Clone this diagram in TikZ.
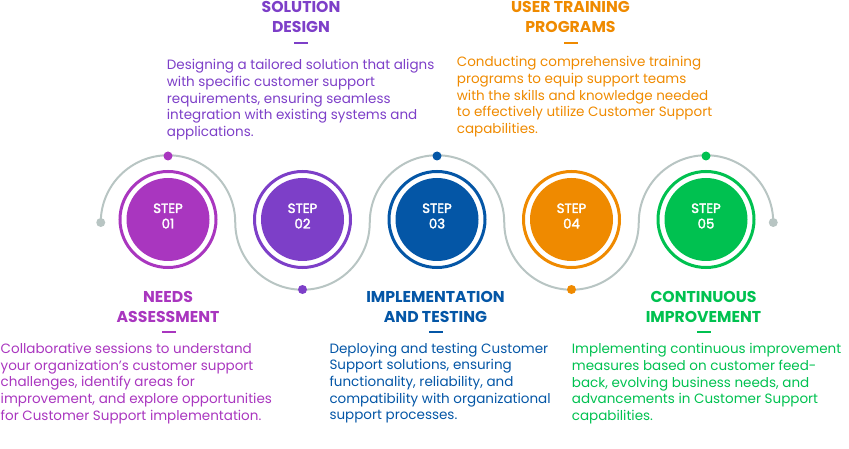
\documentclass[tikz,border=0pt]{standalone}
\usepackage{fontspec}
\setmainfont{Poppins}
\newfontfamily\stepfont{Poppins}[FakeBold=2.5]
\usetikzlibrary{positioning}
\definecolor{needs}{HTML}{A936BF}
\definecolor{design}{HTML}{7D3FC8}
\definecolor{testing}{HTML}{0456A6}
\definecolor{training}{HTML}{EF8A00}
\definecolor{improve}{HTML}{00C150}
\definecolor{track}{HTML}{B8C5C3}

\begin{document}
\begin{tikzpicture}[x=1pt, y=-1pt,
  disc/.style={circle, minimum size=83pt, inner sep=0pt},
  steptext/.style={text=white, align=center, inner sep=0pt, font=\stepfont\fontsize{13.3}{15.5}\selectfont},
  ring/.style={circle, minimum size=96pt, inner sep=0pt, line width=3pt},
  dot/.style={circle, minimum size=9pt, inner sep=0pt},
  title/.style={anchor=base, align=center, inner sep=0pt, font=\fontsize{15.7}{19.5}\selectfont\bfseries},
  titlebar/.style={minimum width=14pt, minimum height=2pt, inner sep=0pt},
  desc/.style={anchor=base west, align=left, inner sep=0pt, font=\fontsize{13.5}{16.7}\selectfont}
]
\useasboundingbox (0,0) rectangle (849,449);

\coordinate (start) at (100.75,222.5);
\draw[track, line width=2pt] (start) arc (180:360:67.25) arc (180:0:67.25)
  arc (180:360:67.25) arc (180:0:67.25) arc (180:360:67.25) coordinate (end);
\node[dot, fill=track] at (start) {};
\node[dot, fill=track] at (end) {};

\node[disc, fill=needs] (s1) at (168,219.5) {};
\node[disc, fill=design] (s2) at (302.5,219.5) {};
\node[disc, fill=testing] (s3) at (437,219.5) {};
\node[disc, fill=training] (s4) at (571.5,219.5) {};
\node[disc, fill=improve] (s5) at (706,219.5) {};

\node[steptext] at ([yshift=3.5pt]s1) {STEP\\01};
\node[steptext] at ([yshift=3.5pt]s2) {STEP\\02};
\node[steptext] at ([yshift=3.5pt]s3) {STEP\\03};
\node[steptext] at ([yshift=3.5pt]s4) {STEP\\04};
\node[steptext] at ([yshift=3.5pt]s5) {STEP\\05};

\node[ring, draw=needs] at (s1) {};
\node[ring, draw=design] at (s2) {};
\node[ring, draw=testing] at (s3) {};
\node[ring, draw=training] at (s4) {};
\node[ring, draw=improve] at (s5) {};

\node[dot, fill=needs] (d1) at (168,156) {};
\node[dot, fill=design] (d2) at (302.5,289.5) {};
\node[dot, fill=testing] (d3) at (437,156) {};
\node[dot, fill=training] (d4) at (571.5,289.5) {};
\node[dot, fill=improve] (d5) at (706,156) {};

\node[title, text=needs] (t1) at (168,322.3) {NEEDS\\ASSESSMENT};
\node[title, text=design] (t2) at (301,32.3) {SOLUTION\\DESIGN};
\node[title, text=testing] (t3) at (435.5,322.3) {IMPLEMENTATION\\AND TESTING};
\node[title, text=training] (t4) at (570.5,32.3) {USER TRAINING\\PROGRAMS};
\node[title, text=improve] (t5) at (703.5,322.3) {CONTINUOUS\\IMPROVEMENT};

\node[titlebar, fill=needs] at (168.5,332.3) {};
\node[titlebar, fill=design] at (301,42.7) {};
\node[titlebar, fill=testing] at (435.5,332.3) {};
\node[titlebar, fill=training] at (570.5,42.7) {};
\node[titlebar, fill=improve] at (703.5,332.3) {};

\node[desc, text=needs] (p1) at (0.5,420.1) {Collaborative sessions to understand\\
  your organization's customer support\\challenges, identify areas for\\
  improvement, and explore opportunities\\for Customer Support implementation.};
\node[desc, text=design] (p2) at (166.7,136.6) {Designing a tailored solution that aligns\\
  with specific customer support\\requirements, ensuring seamless\\
  integration with existing systems and\\applications.};
\node[desc, text=testing] (p3) at (329.3,419.8) {Deploying and testing Customer\\
  Support solutions, ensuring\\functionality, reliability, and\\
  compatibility with organizational\\support processes.};
\node[desc, text=training] (p4) at (456.7,133.5) {Conducting comprehensive training\\
  programs to equip support teams\\with the skills and knowledge needed\\
  to effectively utilize Customer Support\\capabilities.};
\node[desc, text=improve] (p5) at (571.7,420.6) {Implementing continuous improvement\\
  measures based on customer feed-\\back, evolving business needs, and\\
  advancements in Customer Support\\capabilities.};
\end{tikzpicture}
\end{document}
